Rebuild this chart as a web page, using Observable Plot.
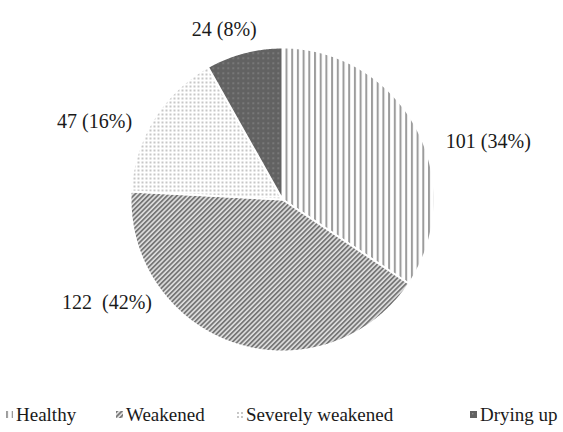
<!DOCTYPE html>
<html>
<head>
<meta charset="utf-8">
<script src="https://cdn.jsdelivr.net/npm/d3@7"></script>
<script src="https://cdn.jsdelivr.net/npm/@observablehq/plot@0.6"></script>
<style>
  html, body { margin: 0; padding: 0; background: #fff; }
  #wrap { position: relative; width: 563px; height: 432px; overflow: hidden; font-family: "Liberation Serif", "DejaVu Serif", serif; }
  #legend { position: absolute; left: 0; top: 402px; width: 563px; height: 30px; font-size: 19px; color: #1a1a1a; }
  .item { position: absolute; top: 0; white-space: nowrap; line-height: 26px; }
  .item svg { vertical-align: middle; margin-right: 3px; position: relative; top: -2px; }
</style>
</head>
<body>
<svg width="0" height="0" style="position:absolute">
  <defs>
    <pattern id="p-healthy" patternUnits="userSpaceOnUse" width="5.7" height="10">
      <rect width="5.7" height="10" fill="#ffffff"/>
      <rect x="0" width="2" height="10" fill="#9c9c9c"/>
    </pattern>
    <pattern id="p-weakened" patternUnits="userSpaceOnUse" width="3.4" height="10" patternTransform="rotate(45)">
      <rect width="3.4" height="10" fill="#e0e0e0"/>
      <rect x="0" width="1.8" height="10" fill="#777777"/>
    </pattern>
    <pattern id="p-severe" patternUnits="userSpaceOnUse" width="4" height="4">
      <rect width="4" height="4" fill="#ffffff"/>
      <circle cx="2" cy="2" r="0.95" fill="#b0b0b0"/>
    </pattern>
    <pattern id="p-drying" patternUnits="userSpaceOnUse" width="5" height="5">
      <rect width="5" height="5" fill="#626262"/>
      <rect x="2" y="2" width="1.4" height="1.4" fill="#8e8e8e"/>
    </pattern>
  </defs>
</svg>
<div id="wrap">
  <div id="chart"></div>
  <div id="legend"></div>
</div>
<script>
// ---- data ----
const categories = ["Healthy", "Weakened", "Severely weakened", "Drying up"];
const counts = [101, 122, 47, 24];
const percents = [34, 42, 16, 8];

// ---- styling (kept separate from data) ----
const patternIds = ["p-healthy", "p-weakened", "p-severe", "p-drying"];
const labelNudge = [[45, 28], [-118, -70], [-33, 18], [-12, 7]];
const labelRadius = 1.2;
const FONT = '"Liberation Serif", "DejaVu Serif", serif';

const rows = categories.map((name, i) => ({name, value: counts[i], pct: percents[i], i}));
const arcs = d3.pie().sort(null).value(d => d.value).startAngle(0).endAngle(2 * Math.PI)(rows);

// polygon outline of each slice, in unit-circle coordinates (y up)
function slicePoints(a) {
  const pts = [{x: 0, y: 0}];
  const n = Math.max(2, Math.ceil((a.endAngle - a.startAngle) / (Math.PI / 360)));
  for (let k = 0; k <= n; ++k) {
    const t = a.startAngle + (a.endAngle - a.startAngle) * k / n;
    pts.push({x: Math.sin(t), y: Math.cos(t)});
  }
  return pts;
}

const sliceMarks = arcs.map(a => Plot.line(slicePoints(a), {
  x: "x", y: "y",
  curve: "linear-closed",
  fill: `url(#${patternIds[a.data.i]})`,
  stroke: "white",
  strokeWidth: 2
}));

const labelMarks = arcs.map(a => {
  const mid = (a.startAngle + a.endAngle) / 2;
  const d = a.data;
  const txt = d.i === 1 ? `${d.value}\u00a0 (${d.pct}%)` : `${d.value} (${d.pct}%)`;
  return Plot.text([{x: labelRadius * Math.sin(mid), y: labelRadius * Math.cos(mid), t: txt}], {
    x: "x", y: "y", text: "t",
    dx: labelNudge[d.i][0], dy: labelNudge[d.i][1],
    fontSize: 20, fill: "#1a1a1a", fontFamily: FONT
  });
});

const H = 400;
const plot = Plot.plot({
  width: 563,
  height: H,
  marginLeft: 130,
  marginRight: 129,
  marginTop: 47,
  marginBottom: H - 351,
  x: {domain: [-1, 1], axis: null},
  y: {domain: [-1, 1], axis: null},
  style: {background: "white", fontFamily: FONT},
  marks: [...sliceMarks, ...labelMarks]
});
document.getElementById("chart").appendChild(plot);

// legend
const legendX = [6, 116, 236, 470];
const legend = document.getElementById("legend");
categories.forEach((name, i) => {
  const item = document.createElement("div");
  item.className = "item";
  item.style.left = legendX[i] + "px";
  item.innerHTML = `<svg width="7" height="7"><rect width="7" height="7" fill="url(#${patternIds[i]})"/></svg>`;
  item.appendChild(document.createTextNode(name));
  legend.appendChild(item);
});
</script>
</body>
</html>
